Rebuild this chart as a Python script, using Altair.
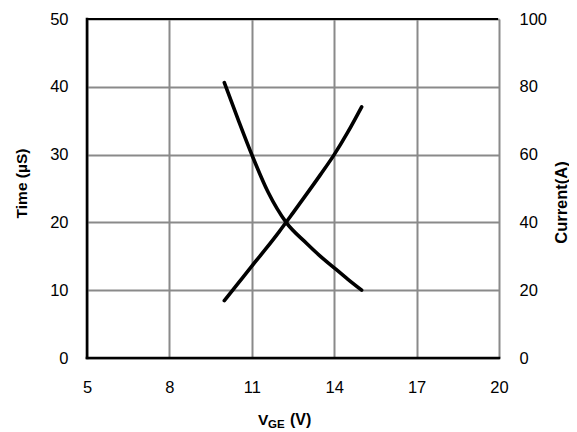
import altair as alt
import pandas as pd

# ---- data ----
vge_time = [10.0, 10.5, 11.0, 11.6, 12.25, 13.0, 13.5, 14.0, 14.5, 15.0]
time_us = [40.6, 35.2, 30.0, 24.4, 20.0, 16.9, 15.0, 13.3, 11.6, 10.0]
vge_current = [10.0, 10.5, 11.0, 11.5, 12.0, 12.5, 13.0, 13.5, 14.0, 14.5, 15.0]
current_a = [16.9, 22.0, 27.1, 32.1, 37.3, 42.8, 48.4, 54.1, 60.0, 66.7, 74.1]
x_ticks = [5, 8, 11, 14, 17, 20]
time_ticks = [0, 10, 20, 30, 40, 50]
current_ticks = [0, 20, 40, 60, 80, 100]

W, H = 412, 339
FONT = "Liberation Sans"
GRID = "#8a8a8a"
LBL = 16.5

df_t = pd.DataFrame({"v": vge_time, "t": time_us})
df_c = pd.DataFrame({"v": vge_current, "c": current_a})
dummy = pd.DataFrame({"k": [0]})

x_axis = alt.Axis(values=x_ticks, title=None, grid=True, gridColor=GRID, gridWidth=2,
                  domain=False, ticks=False, tickSize=0, labelPadding=21,
                  labelFontSize=LBL, labelFont=FONT, labelColor="black",
                  labelFlush=False, labelOverlap=False)
x_scale = alt.Scale(domain=[5, 20], nice=False, zero=False)

time_line = alt.Chart(df_t).mark_line(color="black", strokeWidth=3.6, interpolate="monotone",
                                      strokeCap="round").encode(
    x=alt.X("v:Q", scale=x_scale, axis=x_axis),
    y=alt.Y("t:Q", scale=alt.Scale(domain=[0, 50], nice=False),
            axis=alt.Axis(values=time_ticks, title="Time (µS)", orient="left",
                          grid=True, gridColor=GRID, gridWidth=2, domain=False,
                          ticks=False, tickSize=0, labelPadding=19, labelFontSize=LBL,
                          labelFont=FONT, labelColor="black", titleFont=FONT,
                          titleFontSize=15.5, titleFontWeight="bold", titleColor="black",
                          titleAngle=-90, titleBaseline="middle", titleAlign="center",
                          titleX=-66, titleY=164)),
)

current_line = alt.Chart(df_c).mark_line(color="black", strokeWidth=3.6, interpolate="monotone",
                                         strokeCap="round").encode(
    x=alt.X("v:Q", scale=x_scale, axis=x_axis),
    y=alt.Y("c:Q", scale=alt.Scale(domain=[0, 100], nice=False),
            axis=alt.Axis(values=current_ticks, title="Current(A)", orient="right",
                          grid=False, domain=False,
                          ticks=False, tickSize=0, labelPadding=20, labelFontSize=LBL,
                          labelFont=FONT, labelColor="black", titleFont=FONT,
                          titleFontSize=16.5, titleFontWeight="bold", titleColor="black",
                          titleAngle=-90, titleBaseline="middle", titleAlign="center",
                          titleX=62, titleY=183)),
)

frame_left = alt.Chart(dummy).mark_rule(color="black", strokeWidth=2.6, strokeCap="square").encode(
    x=alt.value(0), y=alt.value(0), y2=alt.value(H))
frame_bottom = alt.Chart(dummy).mark_rule(color="black", strokeWidth=2.6, strokeCap="square").encode(
    x=alt.value(0), x2=alt.value(W), y=alt.value(H))
frame_top = alt.Chart(dummy).mark_rule(color="black", strokeWidth=2.2, strokeCap="butt").encode(
    x=alt.value(0), x2=alt.value(W - 1), y=alt.value(0))

t_v = alt.Chart(dummy).mark_text(text="V", font=FONT, fontSize=15.5, fontWeight="bold",
                                 align="left", baseline="alphabetic", color="black").encode(
    x=alt.value(171), y=alt.value(406))
t_ge = alt.Chart(dummy).mark_text(text="GE", font=FONT, fontSize=11.5, fontWeight="bold",
                                  align="left", baseline="alphabetic", color="black").encode(
    x=alt.value(181), y=alt.value(409))
t_unit = alt.Chart(dummy).mark_text(text="(V)", font=FONT, fontSize=16, fontWeight="bold",
                                    align="left", baseline="alphabetic", color="black").encode(
    x=alt.value(203), y=alt.value(406))

chart = alt.layer(
    time_line, current_line, frame_left, frame_bottom, frame_top, t_v, t_ge, t_unit
).resolve_scale(y="independent").properties(
    width=W, height=H,
    autosize=alt.AutoSizeParams(type="none"),
    padding={"left": 79, "top": 11, "right": 70, "bottom": 74},
).configure_view(strokeWidth=0)

chart.save("out.html", embed_options={"renderer": "svg", "actions": False})
